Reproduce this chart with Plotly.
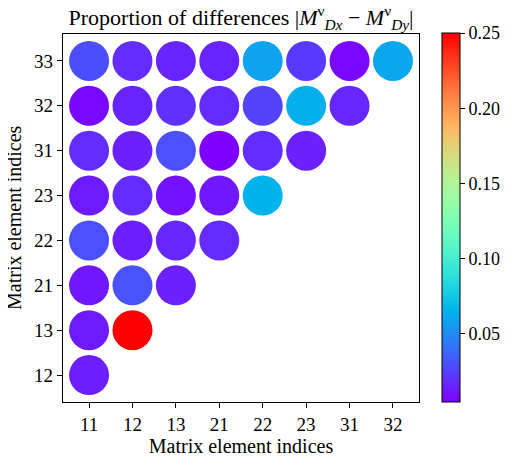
import numpy as np
import plotly.graph_objects as go

# matrix element labels
x_labels = ["11", "12", "13", "21", "22", "23", "31", "32"]
y_labels = ["12", "13", "21", "22", "23", "31", "32", "33"]

# proportion of differences, one list per row (row label -> values along x)
row_12 = [0.014]
row_13 = [0.013, 0.250]
row_21 = [0.012, 0.031, 0.015]
row_22 = [0.030, 0.014, 0.017, 0.018]
row_23 = [0.013, 0.019, 0.010, 0.012, 0.066]
row_31 = [0.019, 0.015, 0.030, 0.0047, 0.019, 0.015]
row_32 = [0.007, 0.016, 0.020, 0.018, 0.026, 0.064, 0.017]
row_33 = [0.029, 0.019, 0.016, 0.016, 0.059, 0.023, 0.007, 0.061]

rows = [row_12, row_13, row_21, row_22, row_23, row_31, row_32, row_33]

xs, ys, vals = [], [], []
for ylab, row in zip(y_labels, rows):
    for xlab, v in zip(x_labels, row):
        xs.append(xlab)
        ys.append(ylab)
        vals.append(v)


def rainbow(t):
    # matplotlib "rainbow" colormap
    r = min(1.0, abs(2 * t - 0.5))
    g = np.sin(np.pi * t)
    b = np.cos(np.pi * t / 2)
    return f"rgb({int(r*255)},{int(g*255)},{int(b*255)})"


cscale = [[t, rainbow(t)] for t in np.linspace(0, 1, 21)]

font = "Liberation Serif"
# page body has an 8px margin, so the figure is a bit smaller than the window
W, H = 505, 453
L, R, T, B = 55, 94, 26, 59
pw, ph = W - L - R, H - T - B

fig = go.Figure(go.Scatter(
    x=xs, y=ys, mode="markers",
    marker=dict(
        size=40, color=vals, colorscale=cscale,
        line=dict(width=0),
        colorbar=dict(
            x=(442 - 63) / pw, xanchor="left", xpad=0,
            y=1 + 1 / ph, yanchor="top", ypad=0,
            lenmode="pixels", len=369, thickness=18,
            outlinecolor="black", outlinewidth=1,
            ticks="outside", ticklen=5, tickcolor="black",
            tickvals=[0.05, 0.10, 0.15, 0.20, 0.25],
            ticktext=["0.05", "0.10", "0.15", "0.20", "0.25"],
            tickfont=dict(family=font, size=18, color="black"),
        ),
    ),
    hoverinfo="x+y+text", text=[f"{v:.3f}" for v in vals],
))

axis_style = dict(
    type="category", showgrid=False, zeroline=False, automargin=False,
    showline=True, linecolor="black", linewidth=1.2, mirror=True,
    ticks="outside", ticklen=5, tickcolor="black",
    tickfont=dict(family=font, size=19, color="black"),
)

fig.update_xaxes(categoryorder="array", categoryarray=x_labels,
                 range=[-0.6, 7.6],
                 title=dict(text="Matrix element indices",
                            font=dict(family=font, size=20, color="black"),
                            standoff=4),
                 **axis_style)
fig.update_yaxes(categoryorder="array", categoryarray=y_labels,
                 range=[-0.6, 7.6], **axis_style)

fig.add_annotation(
    text="Matrix element indices", textangle=-90,
    xref="paper", yref="paper", x=0, y=0.5,
    xanchor="center", yanchor="middle", xshift=-49, showarrow=False,
    font=dict(family=font, size=20, color="black"),
)

fig.update_layout(
    width=W, height=H,
    margin=dict(l=L, r=R, t=T, b=B, autoexpand=False),
    plot_bgcolor="white", paper_bgcolor="white",
    title=dict(
        text="Proportion of differences |<i>M</i><sup>ν</sup><sub><i>Dx</i></sub> − <i>M</i><sup>ν</sup><sub><i>Dy</i></sub>|",
        x=0.5, xref="paper", xanchor="center",
        y=1 - 2 / H, yref="container", yanchor="top", pad=dict(t=0),
        font=dict(family=font, size=22, color="black"),
    ),
    showlegend=False,
)

fig.write_html("out.html")
